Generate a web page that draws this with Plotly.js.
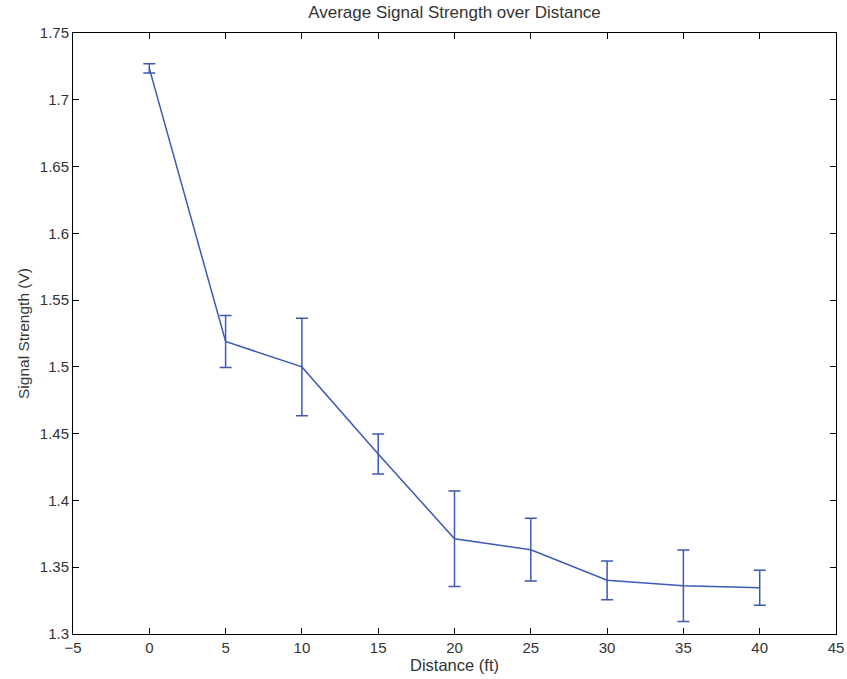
<!DOCTYPE html>
<html>
<head>
<meta charset="utf-8">
<script src="https://cdn.plot.ly/plotly-3.0.1.min.js"></script>
<style>html,body{margin:0;padding:0;background:#fff;}#chart{width:847px;height:679px;}</style>
</head>
<body>
<div id="chart"></div>
<script>
const distance = [0, 5, 10, 15, 20, 25, 30, 35, 40];
const signal = [1.7235, 1.519, 1.500, 1.4348, 1.3713, 1.3631, 1.3402, 1.3361, 1.3346];
const errorVals = [0.0035, 0.0195, 0.0365, 0.015, 0.0358, 0.0235, 0.0145, 0.0268, 0.0131];
const xTicks = [-5, 0, 5, 10, 15, 20, 25, 30, 35, 40, 45];
const yTicks = [1.3, 1.35, 1.4, 1.45, 1.5, 1.55, 1.6, 1.65, 1.7, 1.75];

const blue = '#3d59b5';
const font = "Liberation Sans, Arial, sans-serif";
const txt = '#333';

Plotly.newPlot('chart', [{
  x: distance,
  y: signal,
  type: 'scatter',
  mode: 'lines',
  line: {color: blue, width: 1.5},
  error_y: {type: 'data', array: errorVals, visible: true, color: blue, thickness: 1.5, width: 6}
}], {
  width: 847, height: 679,
  margin: {l: 73, r: 11, t: 33, b: 45},
  paper_bgcolor: '#fff', plot_bgcolor: '#fff',
  showlegend: false,
  font: {family: font, size: 15, color: txt},
  title: {text: 'Average Signal Strength over Distance', font: {family: font, size: 17, color: txt}, xref: 'paper', x: 0.5, xanchor: 'center', y: 0.982, yanchor: 'middle'},
  xaxis: {
    range: [-5, 45], tickvals: xTicks, ticktext: xTicks.map(v => v < 0 ? '\u2212' + Math.abs(v) : String(v)),
    showgrid: false, zeroline: false, showline: true, linecolor: '#000', linewidth: 1,
    mirror: 'allticks', ticks: 'inside', ticklen: 6, tickcolor: '#000',
    tickfont: {family: font, size: 15, color: txt},
    title: {text: 'Distance (ft)', font: {family: font, size: 16.5, color: txt}, standoff: 2}
  },
  yaxis: {
    range: [1.3, 1.75], tickvals: yTicks, ticktext: yTicks.map(v => String(v)),
    showgrid: false, zeroline: false, showline: true, linecolor: '#000', linewidth: 1,
    mirror: 'allticks', ticks: 'inside', ticklen: 6, tickcolor: '#000',
    tickfont: {family: font, size: 15, color: txt},
    title: {text: 'Signal Strength (V)', font: {family: font, size: 15.5, color: txt}, standoff: 6}
  }
}, {staticPlot: true});
</script>
</body>
</html>
